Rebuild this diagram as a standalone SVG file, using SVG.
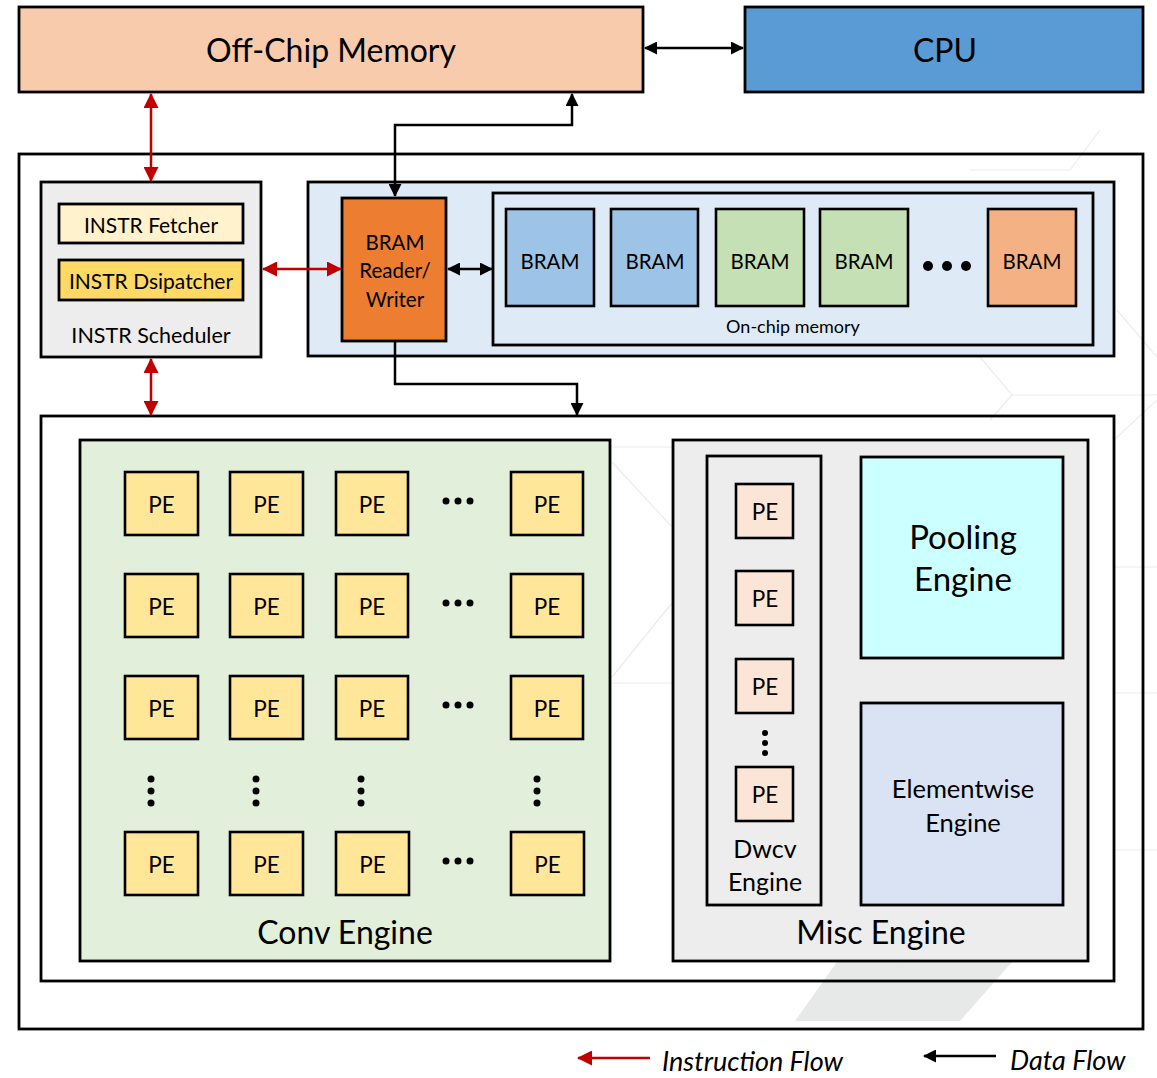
<svg xmlns="http://www.w3.org/2000/svg" width="1157" height="1078" viewBox="0 0 1157 1078">
<style>
text{font-family:Lato,"Open Sans","Liberation Sans",sans-serif;fill:#000;text-anchor:middle;dominant-baseline:central}
.box{stroke:#000;stroke-width:2.8}
.pe{fill:#FFE699;stroke:#000;stroke-width:2.6}
.spe{fill:#FBE5D6;stroke:#000;stroke-width:2.6}
.bram{stroke:#000;stroke-width:2.6}
.blk{fill:none;stroke:#000;stroke-width:2.5}
.red{fill:none;stroke:#C00000;stroke-width:2.5}
.wm{fill:none;stroke:#ECECEC;stroke-width:1.2}
.pet{font-size:22.5px}
.dot{fill:#000}
</style>
<defs>
<marker id="ab" markerUnits="userSpaceOnUse" markerWidth="13" markerHeight="13" refX="12" refY="6.5" orient="auto-start-reverse" viewBox="0 0 13 13"><path d="M0,0 L13,6.5 L0,13 z" fill="#000"/></marker>
<marker id="ar" markerUnits="userSpaceOnUse" markerWidth="15" markerHeight="15" refX="14" refY="7.5" orient="auto-start-reverse" viewBox="0 0 15 15"><path d="M0,0 L15,7.5 L0,15 z" fill="#C00000"/></marker>
</defs>
<rect width="1157" height="1078" fill="#fff"/>
<g id="watermark">
<path class="wm" d="M970,170 H1070 L1100,130"/>
<path class="wm" d="M1117,310 L1157,357"/>
<path class="wm" d="M980,357 L1012,395 H1157"/>
<path class="wm" d="M1012,395 L990,420"/>
<path class="wm" d="M1114,567 H1157"/>
<path class="wm" d="M1114,693 H1157"/>
<path class="wm" d="M1114,850 H1157"/>
<path class="wm" d="M1114,440 L1157,400"/>
<path class="wm" d="M612,447 H673"/>
<path class="wm" d="M612,462 L672,527"/>
<path class="wm" d="M672,603 L612,677"/>
<path class="wm" d="M612,683 H673"/>
<polygon points="795,1021 960,1021 1012,962 837,962" fill="#E7E8E8"/>
</g>
<g id="offchip">
<rect class="box" x="19" y="7" width="624" height="85" fill="#F8CBAD"/>
<text x="331" y="49" font-size="32">Off-Chip Memory</text>
</g>
<g id="cpu">
<rect class="box" x="745" y="7" width="398" height="85" fill="#5B9BD5"/>
<text x="945" y="49" font-size="32">CPU</text>
</g>
<g id="fpga">
<rect class="box" x="19" y="154" width="1124" height="875" fill="none"/>
</g>
<g id="scheduler">
<rect class="box" x="41" y="182" width="220" height="175" fill="#EDEDED"/>
<rect class="box" x="59" y="204" width="184" height="39" fill="#FFF2CC"/>
<text x="151" y="224" font-size="21">INSTR Fetcher</text>
<rect class="box" x="59" y="260" width="184" height="40" fill="#FFD966"/>
<text x="151" y="280" font-size="21">INSTR Dsipatcher</text>
<text x="151" y="335" font-size="21.5">INSTR Scheduler</text>
</g>
<g id="memblock">
<rect class="box" x="308" y="182" width="806" height="174" fill="#DEEBF7"/>
</g>
<g id="bramrw">
<rect class="box" x="342" y="198" width="104" height="143" fill="#ED7D31"/>
<text x="395" y="242" font-size="20.5">BRAM</text>
<text x="395" y="270" font-size="20.5">Reader/</text>
<text x="395" y="299" font-size="20.5">Writer</text>
</g>
<g id="onchip">
<rect class="box" x="493" y="193" width="600" height="152" fill="#DEEBF7"/>
<rect class="bram" x="506" y="209" width="88" height="97" fill="#9DC3E6"/>
<text x="550" y="261" font-size="20.5">BRAM</text>
<rect class="bram" x="611" y="209" width="87" height="97" fill="#9DC3E6"/>
<text x="655" y="261" font-size="20.5">BRAM</text>
<rect class="bram" x="716" y="209" width="88" height="97" fill="#C5E0B4"/>
<text x="760" y="261" font-size="20.5">BRAM</text>
<rect class="bram" x="820" y="209" width="88" height="97" fill="#C5E0B4"/>
<text x="864" y="261" font-size="20.5">BRAM</text>
<circle class="dot" cx="928" cy="266" r="5"/><circle class="dot" cx="947" cy="266" r="5"/><circle class="dot" cx="966" cy="266" r="5"/>
<rect class="bram" x="988" y="209" width="88" height="97" fill="#F4B183"/>
<text x="1032" y="261" font-size="20.5">BRAM</text>
<text x="793" y="326" font-size="18">On-chip memory</text>
</g>
<g id="compute">
<rect class="box" x="41" y="416" width="1073" height="565" fill="none"/>
</g>
<g id="conv">
<rect class="box" x="80" y="440" width="530" height="521" fill="#E2EFDA"/>
<rect class="pe" x="125" y="472" width="73" height="63"/><text class="pet" x="161.5" y="504">PE</text>
<rect class="pe" x="230" y="472" width="73" height="63"/><text class="pet" x="266.5" y="504">PE</text>
<rect class="pe" x="336" y="472" width="72" height="63"/><text class="pet" x="372" y="504">PE</text>
<rect class="pe" x="511" y="472" width="72" height="63"/><text class="pet" x="547" y="504">PE</text>
<rect class="pe" x="125" y="574" width="73" height="63"/><text class="pet" x="161.5" y="606">PE</text>
<rect class="pe" x="230" y="574" width="73" height="63"/><text class="pet" x="266.5" y="606">PE</text>
<rect class="pe" x="336" y="574" width="72" height="63"/><text class="pet" x="372" y="606">PE</text>
<rect class="pe" x="511" y="574" width="72" height="63"/><text class="pet" x="547" y="606">PE</text>
<rect class="pe" x="125" y="676" width="73" height="63"/><text class="pet" x="161.5" y="708">PE</text>
<rect class="pe" x="230" y="676" width="73" height="63"/><text class="pet" x="266.5" y="708">PE</text>
<rect class="pe" x="336" y="676" width="72" height="63"/><text class="pet" x="372" y="708">PE</text>
<rect class="pe" x="511" y="676" width="72" height="63"/><text class="pet" x="547" y="708">PE</text>
<rect class="pe" x="125" y="832" width="73" height="63"/><text class="pet" x="161.5" y="864">PE</text>
<rect class="pe" x="230" y="832" width="73" height="63"/><text class="pet" x="266.5" y="864">PE</text>
<rect class="pe" x="336" y="832" width="73" height="63"/><text class="pet" x="372.5" y="864">PE</text>
<rect class="pe" x="511" y="832" width="73" height="63"/><text class="pet" x="547.5" y="864">PE</text>
<g class="dot">
<circle cx="446" cy="501" r="3.5"/><circle cx="458" cy="501" r="3.5"/><circle cx="470" cy="501" r="3.5"/>
<circle cx="446" cy="603" r="3.5"/><circle cx="458" cy="603" r="3.5"/><circle cx="470" cy="603" r="3.5"/>
<circle cx="446" cy="705" r="3.5"/><circle cx="458" cy="705" r="3.5"/><circle cx="470" cy="705" r="3.5"/>
<circle cx="446" cy="861" r="3.5"/><circle cx="458" cy="861" r="3.5"/><circle cx="470" cy="861" r="3.5"/>
<circle cx="151" cy="779" r="3.5"/><circle cx="151" cy="791" r="3.5"/><circle cx="151" cy="803" r="3.5"/>
<circle cx="256" cy="779" r="3.5"/><circle cx="256" cy="791" r="3.5"/><circle cx="256" cy="803" r="3.5"/>
<circle cx="361" cy="779" r="3.5"/><circle cx="361" cy="791" r="3.5"/><circle cx="361" cy="803" r="3.5"/>
<circle cx="537" cy="779" r="3.5"/><circle cx="537" cy="791" r="3.5"/><circle cx="537" cy="803" r="3.5"/>
</g>
<text x="345" y="931" font-size="32">Conv Engine</text>
</g>
<g id="misc">
<rect class="box" x="673" y="440" width="415" height="521" fill="#EDEDED"/>
<text x="881" y="931" font-size="32">Misc Engine</text>
</g>
<g id="dwcv">
<rect class="box" x="707" y="456" width="114" height="449" fill="#EDEDED"/>
<rect class="spe" x="736" y="484" width="57" height="54"/><text class="pet" x="765" y="511">PE</text>
<rect class="spe" x="736" y="571" width="57" height="54"/><text class="pet" x="765" y="598">PE</text>
<rect class="spe" x="736" y="659" width="57" height="54"/><text class="pet" x="765" y="686">PE</text>
<circle class="dot" cx="765" cy="733" r="3"/><circle class="dot" cx="765" cy="743" r="3"/><circle class="dot" cx="765" cy="753" r="3"/>
<rect class="spe" x="736" y="767" width="57" height="54"/><text class="pet" x="765" y="794">PE</text>
<text x="765" y="848" font-size="25">Dwcv</text>
<text x="765" y="881" font-size="25">Engine</text>
</g>
<g id="pooling">
<rect class="box" x="861" y="457" width="202" height="201" fill="#CCFFFF"/>
<text x="963" y="536" font-size="33">Pooling</text>
<text x="963" y="578" font-size="33">Engine</text>
</g>
<g id="eltwise">
<rect class="box" x="861" y="703" width="202" height="202" fill="#DAE3F3"/>
<text x="963" y="788" font-size="25.5">Elementwise</text>
<text x="963" y="822" font-size="25.5">Engine</text>
</g>
<g id="connectors">
<line class="blk" x1="645" y1="48" x2="743" y2="48" marker-start="url(#ab)" marker-end="url(#ab)"/>
<line class="red" x1="151" y1="94" x2="151" y2="181" marker-start="url(#ar)" marker-end="url(#ar)"/>
<path class="blk" d="M395,196 V125 H572 V94" marker-start="url(#ab)" marker-end="url(#ab)"/>
<line class="red" x1="263" y1="269" x2="341" y2="269" marker-start="url(#ar)" marker-end="url(#ar)"/>
<line class="blk" x1="448" y1="269" x2="492" y2="269" marker-start="url(#ab)" marker-end="url(#ab)"/>
<path class="blk" d="M395,342 V384 H577 V415" marker-end="url(#ab)"/>
<line class="red" x1="151" y1="359" x2="151" y2="415" marker-start="url(#ar)" marker-end="url(#ar)"/>
</g>
<g id="legend">
<line class="red" x1="650" y1="1058" x2="578" y2="1058" marker-end="url(#ar)"/>
<text x="662" y="1060" font-size="27" font-style="italic" style="text-anchor:start">Instruction Flow</text>
<line class="blk" x1="996" y1="1056" x2="924" y2="1056" marker-end="url(#ab)"/>
<text x="1010" y="1059" font-size="27" font-style="italic" style="text-anchor:start">Data Flow</text>
</g>
</svg>
